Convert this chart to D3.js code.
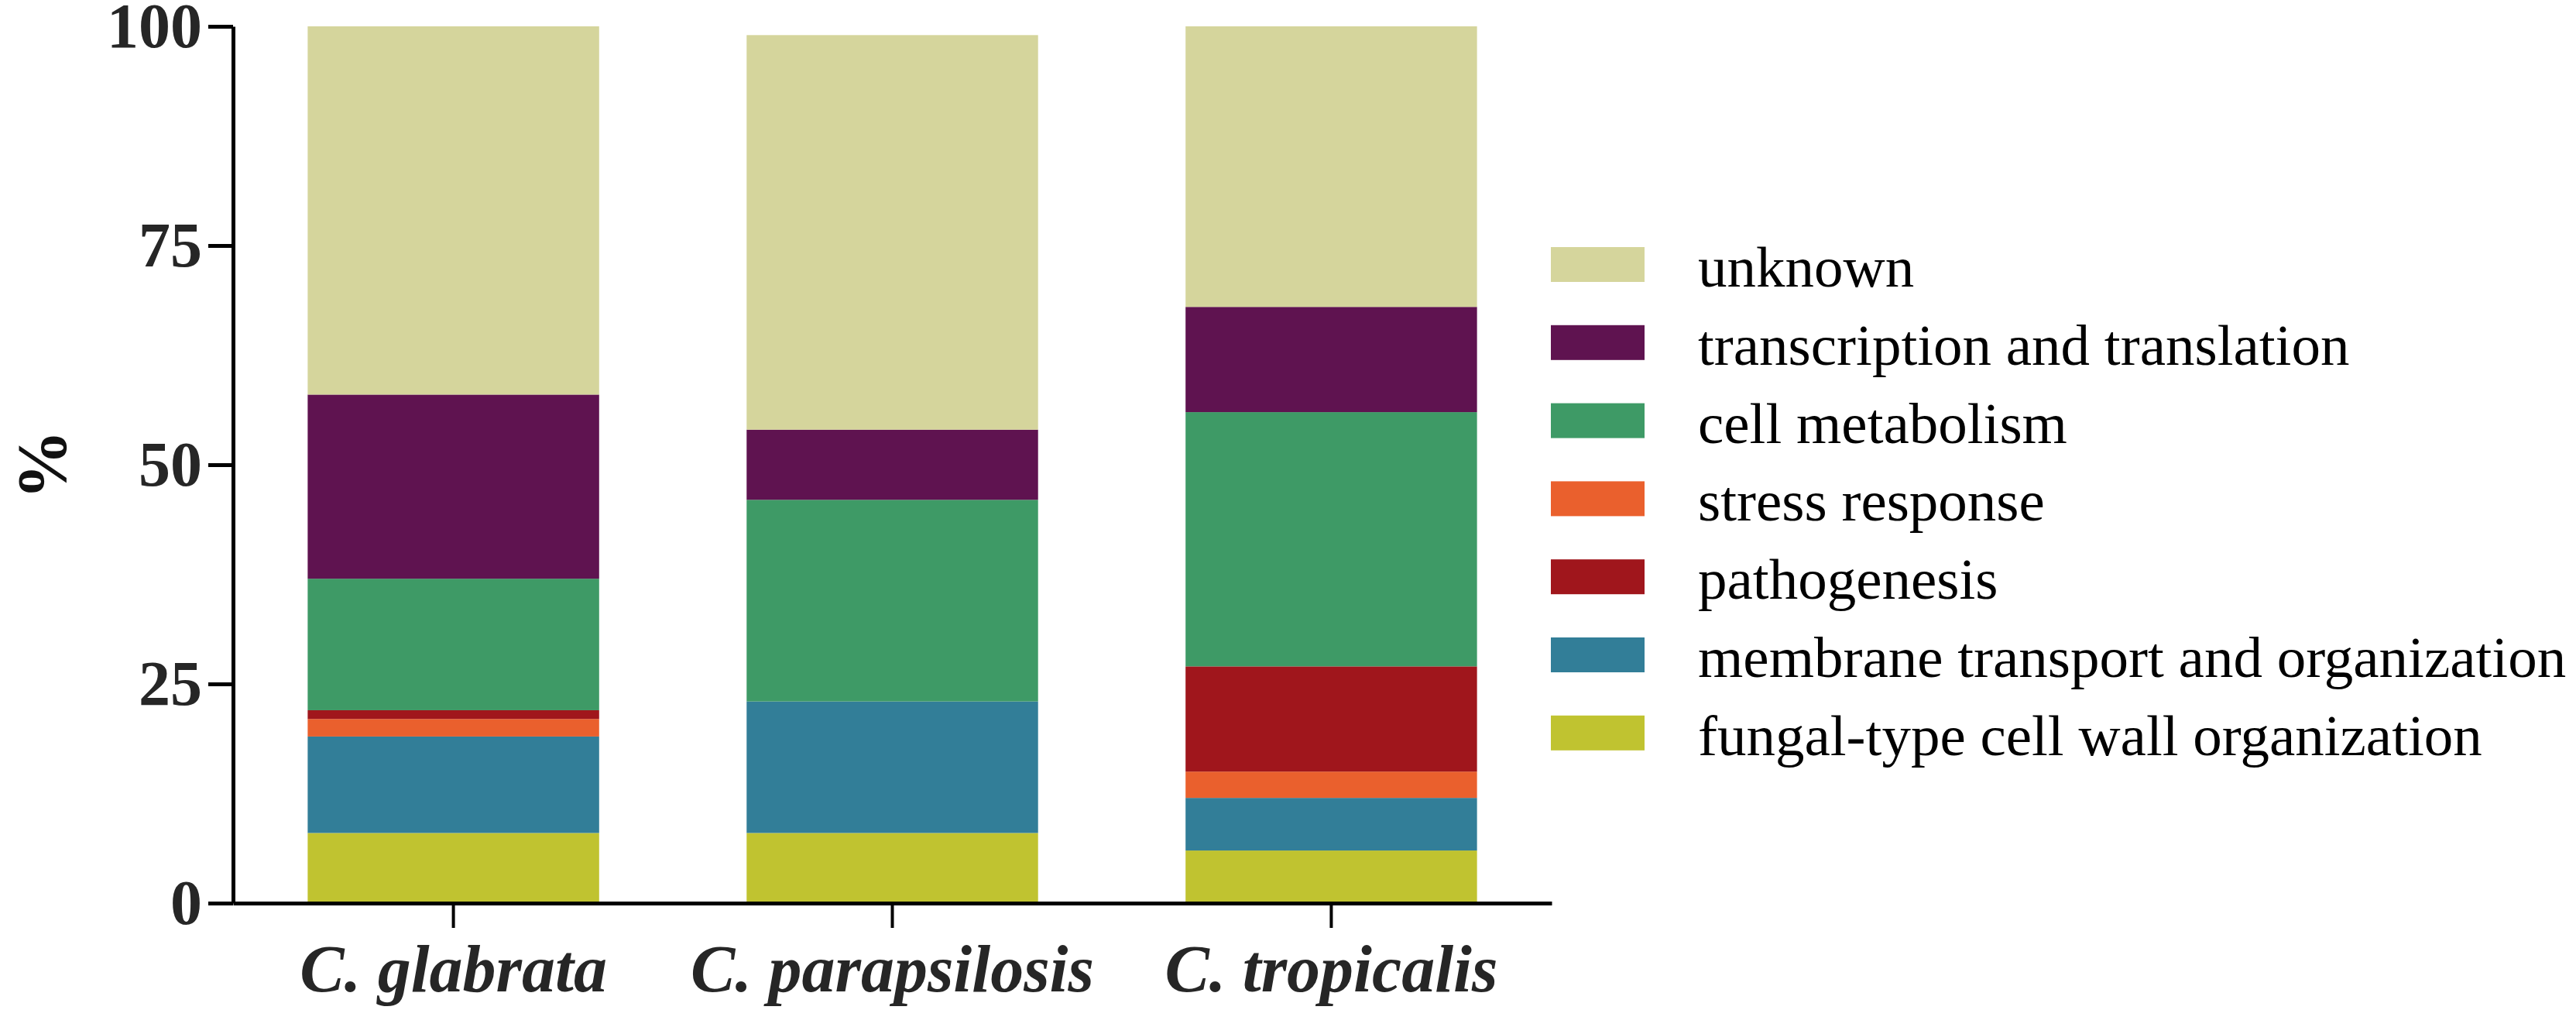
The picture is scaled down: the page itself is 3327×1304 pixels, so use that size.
<!DOCTYPE html>
<html>
<head>
<meta charset="utf-8">
<script src="https://cdn.jsdelivr.net/npm/d3@7"></script>
<style>
  html, body { margin: 0; padding: 0; background: #fff; }
  svg { display: block; }
</style>
</head>
<body>
<div id="chart"></div>
<script>
// species on the x axis
const species = ["C. glabrata", "C. parapsilosis", "C. tropicalis"];

// stacking order in the bars (bottom -> top)
const stackOrder = [
  "fungal-type cell wall organization",
  "membrane transport and organization",
  "stress response",
  "pathogenesis",
  "cell metabolism",
  "transcription and translation",
  "unknown"
];

// % per species, same order as `species`
const fungalWall    = [8, 8, 6];
const membrane      = [11, 15, 6];
const stress        = [2, 0, 3];
const pathogenesis  = [1, 0, 12];
const metabolism    = [15, 23, 29];
const transcription = [21, 8, 12];
const unknown       = [42, 45, 32];

const yTicks = [0, 25, 50, 75, 100];

// legend order (top -> bottom)
const legendOrder = [
  "unknown",
  "transcription and translation",
  "cell metabolism",
  "stress response",
  "pathogenesis",
  "membrane transport and organization",
  "fungal-type cell wall organization"
];

const colors = {
  "unknown": "#d5d59c",
  "transcription and translation": "#5f1350",
  "cell metabolism": "#3e9a66",
  "stress response": "#ea602d",
  "pathogenesis": "#a0161c",
  "membrane transport and organization": "#327e98",
  "fungal-type cell wall organization": "#c0c330"
};

const seriesByName = {
  "fungal-type cell wall organization": fungalWall,
  "membrane transport and organization": membrane,
  "stress response": stress,
  "pathogenesis": pathogenesis,
  "cell metabolism": metabolism,
  "transcription and translation": transcription,
  "unknown": unknown
};

const table = species.map((s, i) => {
  const row = { species: s };
  stackOrder.forEach(k => row[k] = seriesByName[k][i]);
  return row;
});

const width = 3327, height = 1304;
const serif = "'Liberation Serif', 'Times New Roman', Times, serif";

const svg = d3.select("#chart").append("svg")
    .attr("width", width)
    .attr("height", height)
    .attr("viewBox", [0, 0, width, height])
    .attr("font-family", serif);

const x = d3.scaleBand()
    .domain(species)
    .range([301, 2004])
    .paddingInner(0.336)
    .paddingOuter(0.17);

const y = d3.scaleLinear()
    .domain([0, 100])
    .range([1166, 34]);

const stacked = d3.stack().keys(stackOrder)(table);

svg.append("g")
  .selectAll("g")
  .data(stacked)
  .join("g")
    .attr("fill", d => colors[d.key])
  .selectAll("rect")
  .data(d => d.filter(p => p[1] - p[0] > 0))
  .join("rect")
    .attr("x", d => x(d.data.species))
    .attr("width", x.bandwidth())
    .attr("y", d => y(d[1]))
    .attr("height", d => y(d[0]) - y(d[1]));

// y axis
svg.append("g")
    .attr("transform", `translate(${x.range()[0]},0)`)
    .call(d3.axisLeft(y).tickValues(yTicks).tickSize(32).tickSizeOuter(0).tickPadding(8))
    .call(g => g.select(".domain").attr("stroke", "#000").attr("stroke-width", 5))
    .call(g => g.selectAll(".tick line").attr("stroke", "#000").attr("stroke-width", 5))
    .call(g => g.selectAll(".tick text")
        .attr("font-family", serif)
        .attr("font-size", 82)
        .attr("font-weight", "bold")
        .attr("fill", "#262626"));

// x axis
svg.append("g")
    .attr("transform", `translate(0,${y(0)})`)
    .call(d3.axisBottom(x).tickSize(32).tickSizeOuter(0))
    .call(g => g.select(".domain").attr("stroke", "#000").attr("stroke-width", 5))
    .call(g => g.selectAll(".tick line").attr("stroke", "#000").attr("stroke-width", 4))
    .call(g => g.selectAll(".tick text")
        .attr("y", 114)
        .attr("dy", 0)
        .attr("font-family", serif)
        .attr("font-size", 86)
        .attr("font-weight", "bold")
        .attr("font-style", "italic")
        .attr("fill", "#262626"));

// y label
svg.append("text")
    .attr("transform", `translate(53,${(y(0) + y(100)) / 2}) rotate(-90)`)
    .attr("text-anchor", "middle")
    .attr("dy", "0.35em")
    .attr("font-size", 90)
    .attr("font-weight", "bold")
    .attr("fill", "#111")
    .text("%");

// legend
const legend = svg.append("g")
    .attr("transform", "translate(2003,319)");

const item = legend.selectAll("g")
  .data(legendOrder)
  .join("g")
    .attr("transform", (d, i) => `translate(0,${i * 100.8})`);

item.append("rect")
    .attr("width", 121)
    .attr("height", 45)
    .attr("fill", d => colors[d]);

item.append("text")
    .attr("x", 190)
    .attr("y", 51)
    .attr("font-size", 75)
    .attr("fill", "#000")
    .text(d => d);
</script>
</body>
</html>
